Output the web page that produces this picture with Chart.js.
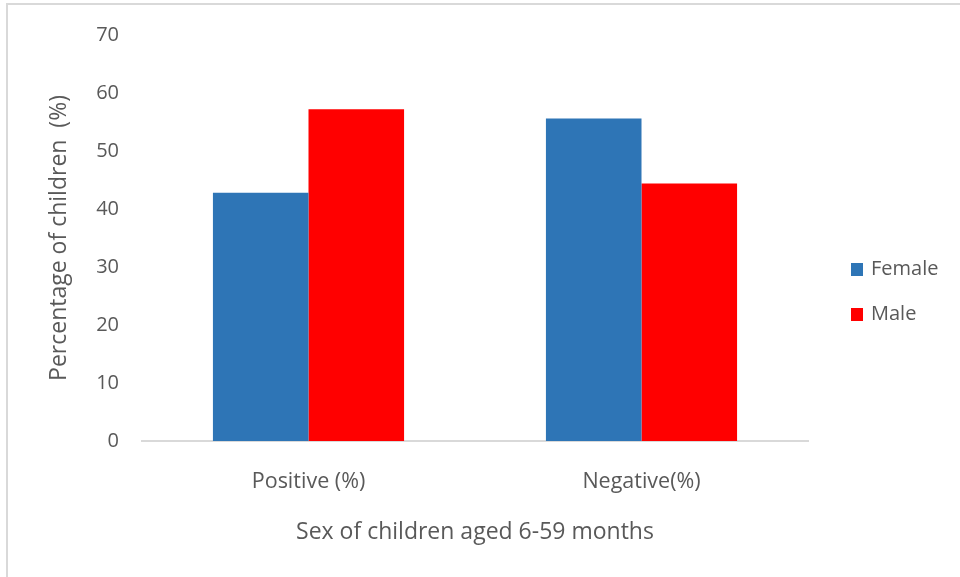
<!DOCTYPE html>
<html>
<head>
<meta charset="utf-8">
<title>Sex of children aged 6-59 months</title>
<script src="https://cdn.jsdelivr.net/npm/chart.js@4.4.1/dist/chart.umd.min.js"></script>
<style>
  html, body { margin: 0; padding: 0; background: #ffffff; }
  #wrap { position: relative; width: 960px; height: 577px; }
  canvas { display: block; }
</style>
</head>
<body>
<div id="wrap"><canvas id="chart" width="960" height="577"></canvas></div>
<script>
// Test result categories and percentage of children per sex
const categories = ['Positive (%)', 'Negative(%)'];
const femaleValues = [42.8, 55.6];
const maleValues = [57.2, 44.4];
const seriesNames = ['Female', 'Male'];
const yTicks = [0, 10, 20, 30, 40, 50, 60, 70];

const TEXT = '#595959';
const FONT = "'Open Sans', 'DejaVu Sans', sans-serif";

// Light frame along the top and left edges of the figure
const framePlugin = {
  id: 'frame',
  beforeDraw(chart) {
    const ctx = chart.ctx;
    ctx.save();
    ctx.fillStyle = '#ffffff';
    ctx.fillRect(0, 0, chart.width, chart.height);
    ctx.fillStyle = '#d9d9d9';
    ctx.fillRect(6, 3, chart.width - 6, 2);
    ctx.fillRect(6, 3, 2, chart.height - 3);
    ctx.restore();
  }
};

// Legend drawn to the right of the plot area, one row per dataset
const sideLegend = {
  id: 'sideLegend',
  afterDraw(chart) {
    const ctx = chart.ctx;
    const area = chart.chartArea;
    const x0 = area.right + 43;
    const yStart = 269.5;
    const rowGap = 45;
    ctx.save();
    ctx.font = "20px " + FONT;
    ctx.textBaseline = 'middle';
    ctx.textAlign = 'left';
    chart.data.datasets.forEach((ds, i) => {
      const y = yStart + i * rowGap;
      ctx.fillStyle = ds.backgroundColor;
      ctx.fillRect(x0, y - 6.5, 12, 13);
      ctx.fillStyle = TEXT;
      ctx.fillText(ds.label, x0 + 20, y);
    });
    ctx.restore();
  }
};

new Chart(document.getElementById('chart'), {
  type: 'bar',
  data: {
    labels: categories,
    datasets: [
      { label: seriesNames[0], data: femaleValues, backgroundColor: '#2E75B6' },
      { label: seriesNames[1], data: maleValues, backgroundColor: '#FF0000' }
    ]
  },
  options: {
    responsive: false,
    animation: false,
    devicePixelRatio: 1,
    layout: { padding: { top: 32, right: 152, bottom: 0, left: 0 } },
    datasets: {
      bar: { barPercentage: 1.0, categoryPercentage: 0.574 }
    },
    plugins: {
      legend: { display: false },
      tooltip: { enabled: false }
    },
    scales: {
      x: {
        afterFit(scale) { scale.height = 136; },
        grid: { display: false, drawTicks: false },
        border: { display: true, color: '#d9d9d9', width: 2 },
        ticks: { color: TEXT, font: { family: FONT, size: 21.5 }, padding: 28 },
        title: {
          display: true,
          text: 'Sex of children aged 6-59 months',
          color: TEXT,
          font: { family: FONT, size: 23 },
          padding: { top: 0, bottom: 31 }
        }
      },
      y: {
        min: 0,
        max: 70,
        afterFit(scale) { scale.width = 142; },
        afterBuildTicks(scale) { scale.ticks = yTicks.map(v => ({ value: v })); },
        grid: { display: false, drawTicks: false },
        border: { display: false },
        ticks: { color: TEXT, font: { family: FONT, size: 20 }, padding: 23 },
        title: {
          display: true,
          text: 'Percentage of children  (%)',
          color: TEXT,
          font: { family: FONT, size: 23 },
          padding: { top: 46, bottom: 0 }
        }
      }
    }
  },
  plugins: [framePlugin, sideLegend]
});
</script>
</body>
</html>
